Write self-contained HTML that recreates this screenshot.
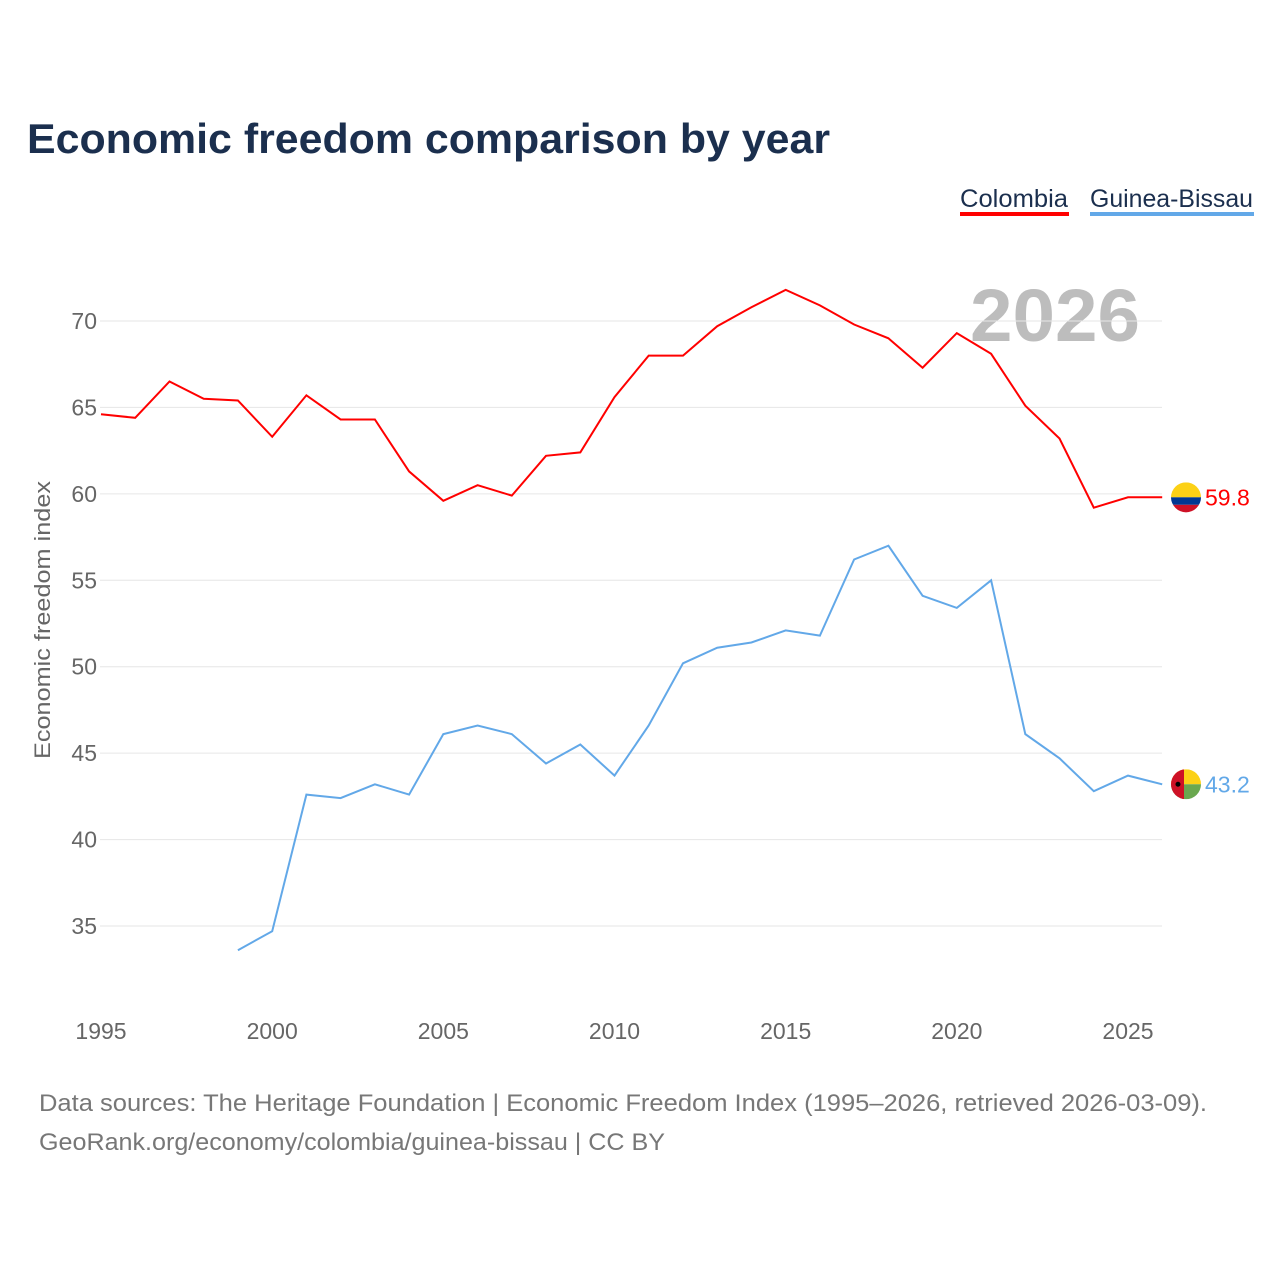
<!DOCTYPE html>
<html><head><meta charset="utf-8">
<style>
body{margin:0;background:#fff;width:1280px;height:1280px;overflow:hidden;font-family:"Liberation Sans",sans-serif}
</style></head>
<body>
<svg id="chart" width="1280" height="1280" xmlns="http://www.w3.org/2000/svg" font-family="Liberation Sans, sans-serif">
<text x="27" y="153" font-size="42" font-weight="bold" fill="#1b2f4e" textLength="803" lengthAdjust="spacingAndGlyphs">Economic freedom comparison by year</text>
<g>
<text x="960" y="207" font-size="25" fill="#1b2f4e" textLength="108" lengthAdjust="spacingAndGlyphs">Colombia</text>
<rect x="960" y="212" width="109" height="4" fill="#ff0000"/>
<text x="1090" y="207" font-size="25" fill="#1b2f4e" textLength="163" lengthAdjust="spacingAndGlyphs">Guinea-Bissau</text>
<rect x="1090" y="212" width="164" height="4" fill="#62a8e8"/>
</g>
<text x="1140" y="341" text-anchor="end" font-size="74" font-weight="bold" fill="#bdbdbd" textLength="170" lengthAdjust="spacingAndGlyphs">2026</text>
<text transform="translate(50,620) rotate(-90)" text-anchor="middle" font-size="22" fill="#666" textLength="278" lengthAdjust="spacingAndGlyphs">Economic freedom index</text>
<g id="grid"></g><g id="series"></g>
<text x="39" y="1111" font-size="24" fill="#777" textLength="1168" lengthAdjust="spacingAndGlyphs">Data sources: The Heritage Foundation | Economic Freedom Index (1995–2026, retrieved 2026-03-09).</text>
<text x="39" y="1150" font-size="24" fill="#777" textLength="626" lengthAdjust="spacingAndGlyphs">GeoRank.org/economy/colombia/guinea-bissau | CC BY</text>
</svg>
<script>
const years=[1995,1996,1997,1998,1999,2000,2001,2002,2003,2004,2005,2006,2007,2008,2009,2010,2011,2012,2013,2014,2015,2016,2017,2018,2019,2020,2021,2022,2023,2024,2025,2026];
const colombia=[64.6,64.4,66.5,65.5,65.4,63.3,65.7,64.3,64.3,61.3,59.6,60.5,59.9,62.2,62.4,65.6,68.0,68.0,69.7,70.8,71.8,70.9,69.8,69.0,67.3,69.3,68.1,65.1,63.2,59.2,59.8,59.8];
const guinea=[null,null,null,null,33.6,34.7,42.6,42.4,43.2,42.6,46.1,46.6,46.1,44.4,45.5,43.7,46.6,50.2,51.1,51.4,52.1,51.8,56.2,57.0,54.1,53.4,55.0,46.1,44.7,42.8,43.7,43.2];
const yTicks=[35,40,45,50,55,60,65,70];
const xTicks=[1995,2000,2005,2010,2015,2020,2025];
const NS="http://www.w3.org/2000/svg";
const X=y=>101+(y-1995)*(1128-101)/30;
const Y=v=>321+(70-v)*(926-321)/35;
function mk(t,a,p){const e=document.createElementNS(NS,t);for(const k in a)e.setAttribute(k,a[k]);p.appendChild(e);return e;}
const grid=document.getElementById('grid'),ser=document.getElementById('series');
yTicks.forEach(v=>{
 const l=mk('line',{x1:100,x2:1162,y1:Y(v),y2:Y(v),stroke:'#e6e6e6','stroke-width':1},grid);
 
 
 const t=mk('text',{x:97,y:Y(v)+8,'text-anchor':'end','font-size':23,fill:'#666'},grid);t.textContent=v;
 
 
});
xTicks.forEach(v=>{
 const t=mk('text',{x:X(v),y:1039,'text-anchor':'middle','font-size':23,fill:'#666'},grid);t.textContent=v;
 
 
});
function line(vals,color,name){
 let d='';vals.forEach((v,i)=>{if(v==null)return;d+=(d?'L':'M')+X(years[i]).toFixed(1)+','+Y(v).toFixed(1);});
 const p=mk('path',{d:d,fill:'none',stroke:color,'stroke-width':2},ser);
 
 
 const last=vals[vals.length-1];
 const t=mk('text',{x:1205,y:Y(last)+8,'font-size':23,fill:color},ser);t.textContent=last.toFixed(1);
 
 
 return Y(last);
}
const cy=line(colombia,'#ff0000','colombia');
const gy=line(guinea,'#62a8e8','guinea-bissau');
let g=mk('g',{},ser);


mk('clipPath',{id:'c1'},g).appendChild(document.createElementNS(NS,'circle'));
let cc=g.querySelector('circle');cc.setAttribute('cx',1186);cc.setAttribute('cy',cy);cc.setAttribute('r',15);
mk('rect',{x:1171,y:cy-15,width:30,height:15,fill:'#fcd116','clip-path':'url(#c1)'},g);
mk('rect',{x:1171,y:cy,width:30,height:7.5,fill:'#003893','clip-path':'url(#c1)'},g);
mk('rect',{x:1171,y:cy+7.5,width:30,height:8,fill:'#ce1126','clip-path':'url(#c1)'},g);
g=mk('g',{},ser);


mk('clipPath',{id:'c2'},g).appendChild(document.createElementNS(NS,'circle'));
cc=g.querySelectorAll('circle')[0];cc.setAttribute('cx',1186);cc.setAttribute('cy',gy);cc.setAttribute('r',15);
mk('rect',{x:1171,y:gy-15,width:30,height:15,fill:'#fcd116','clip-path':'url(#c2)'},g);
mk('rect',{x:1171,y:gy,width:30,height:15,fill:'#6aa84f','clip-path':'url(#c2)'},g);
mk('rect',{x:1171,y:gy-15,width:13,height:30,fill:'#ce1126','clip-path':'url(#c2)'},g);
mk('circle',{cx:1178,cy:gy,r:2.5,fill:'#000'},g);
</script>
</body></html>
